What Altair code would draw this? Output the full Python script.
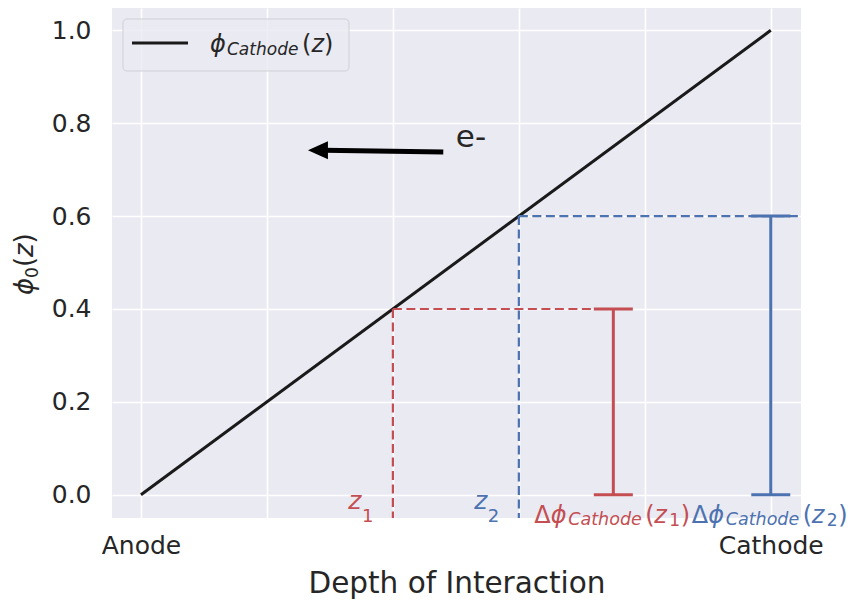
import altair as alt
import pandas as pd

# Weighting potential of the cathode across the detector depth
depth = [0.0, 1.0]
phi_cathode = [0.0, 1.0]

# Two interaction depths, the potential reached there, and where each guide stops
z_depth = [0.4, 0.6]
z_phi = [0.4, 0.6]
z_sub = ["1", "2"]
guide_end = [0.777, 1.10]
bar_x = [0.75, 1.0]
bar_base = [0.0, 0.0]
series_colors = ["#C44E52", "#4C72B0"]
z_label_x = [0.35, 0.55]

# Electron drift arrow and its label
arrow_x = [0.48, 0.29]
arrow_y = [0.738, 0.742]
head_x = [0.281]
head_y = [0.742]
e_x = [0.5]
e_y = [0.748]

grid_ticks = [0.0, 0.2, 0.4, 0.6, 0.8, 1.0]
x_domain = [-0.046, 1.048]
y_domain = [-0.05, 1.048]

INK = "#262626"
FONT = "DejaVu Sans"

xs = alt.Scale(domain=x_domain, nice=False, zero=False)
ys = alt.Scale(domain=y_domain, nice=False, zero=False)

x_axis = alt.Axis(
    values=grid_ticks,
    labelExpr="datum.value == 0 ? 'Anode' : (datum.value == 1 ? 'Cathode' : '')",
    labelOverlap=False,
    labelFlush=False,
    labelPadding=15,
    titleFontSize=29.5,
    titlePadding=11,
)
y_axis = alt.Axis(
    values=grid_ticks,
    format=".1f",
    labelPadding=21,
)
X_TITLE = "Depth of Interaction"


def X(field="x"):
    return alt.X(f"{field}:Q", scale=xs, axis=x_axis, title=X_TITLE)


def Y(field="y"):
    return alt.Y(f"{field}:Q", scale=ys, axis=y_axis, title=None)


layers = []

# main potential line
main_df = pd.DataFrame({"x": depth, "y": phi_cathode})
layers.append(
    alt.Chart(main_df).mark_line(color="#1a1a1a", strokeWidth=3).encode(x=X(), y=Y())
)

pts = pd.DataFrame(
    {
        "z": z_depth,
        "phi": z_phi,
        "end": guide_end,
        "bx": bar_x,
        "base": bar_base,
        "c": series_colors,
        "floor": [y_domain[0]] * len(z_depth),
    }
)

dash = dict(strokeDash=[9, 4.5], strokeWidth=2.2, clip=True)
color_enc = alt.Color("c:N", scale=None)

# dashed guides from each depth up to the line and across to its bar
layers.append(
    alt.Chart(pts).mark_rule(**dash).encode(x=X("z"), y=Y("phi"), y2="floor:Q", color=color_enc)
)
layers.append(
    alt.Chart(pts).mark_rule(**dash).encode(x=X("z"), x2="end:Q", y=Y("phi"), color=color_enc)
)

# delta-phi bars with caps
layers.append(
    alt.Chart(pts).mark_rule(strokeWidth=3).encode(x=X("bx"), y=Y("base"), y2="phi:Q", color=color_enc)
)
caps = pd.DataFrame(
    {
        "bx": bar_x + bar_x,
        "v": bar_base + z_phi,
        "c": series_colors + series_colors,
    }
)
layers.append(
    alt.Chart(caps)
    .mark_tick(orient="horizontal", size=39, thickness=3, opacity=1)
    .encode(x=X("bx"), y=Y("v"), color=color_enc)
)

# electron drift arrow
arrow_df = pd.DataFrame({"x": arrow_x, "y": arrow_y})
layers.append(
    alt.Chart(arrow_df).mark_line(color="black", strokeWidth=5).encode(x=X(), y=Y())
)
head_df = pd.DataFrame({"x": head_x, "y": head_y})
layers.append(
    alt.Chart(head_df)
    .mark_point(shape="M -1 0 L 1 -0.9 L 1 0.9 Z", size=400, filled=True, opacity=1, color="black")
    .encode(x=X(), y=Y())
)
e_df = pd.DataFrame({"x": e_x, "y": e_y, "t": ["e-"]})
layers.append(
    alt.Chart(e_df)
    .mark_text(align="left", baseline="alphabetic", fontSize=31, color=INK)
    .encode(x=X(), y=Y(), text="t:N")
)


def piece(x, y, text, dx, dy, size, color, italic=False, align="left"):
    df = pd.DataFrame({"x": [x], "y": [y], "t": [text]})
    kw = dict(
        align=align,
        baseline="alphabetic",
        dx=dx,
        dy=dy,
        fontSize=size,
        color=color,
    )
    if italic:
        kw["fontStyle"] = "italic"
    return alt.Chart(df).mark_text(**kw).encode(x=X(), y=Y(), text="t:N")


# z_1, z_2 labels next to the dashed verticals
for lx, sub, col in zip(z_label_x, z_sub, series_colors):
    layers.append(piece(lx, 0.0, "z", 0, 14.5, 25, col, italic=True, align="right"))
    layers.append(piece(lx, 0.0, sub, 0.5, 27, 18, col))

# delta-phi_Cathode(z_i) labels under each bar
for bx, sub, col in zip(bar_x, z_sub, series_colors):
    layers.append(piece(bx, 0.0, "Δ", -79, 28.5, 24, col))
    layers.append(piece(bx, 0.0, "ϕ", -62.5, 28.5, 24, col, italic=True))
    layers.append(piece(bx, 0.0, "Cathode", -45, 30.5, 17.5, col, italic=True))
    layers.append(piece(bx, 0.0, "(", 32, 28.5, 24, col))
    layers.append(piece(bx, 0.0, "z", 41, 28.5, 24, col, italic=True))
    layers.append(piece(bx, 0.0, sub, 56, 31, 17, col))
    layers.append(piece(bx, 0.0, ")", 67.5, 28.5, 24, col))


def placed_text(text, px, py, size, italic=False, angle=0, color=INK):
    kw = dict(align="left", baseline="alphabetic", fontSize=size, color=color)
    if italic:
        kw["fontStyle"] = "italic"
    if angle:
        kw["angle"] = angle
    return (
        alt.Chart(pd.DataFrame({"t": [text]}))
        .mark_text(**kw)
        .encode(x=alt.value(px), y=alt.value(py), text="t:N")
    )


# y-axis title phi_0(z), rotated
layers.append(placed_text("ϕ", -79, 287, 26, italic=True, angle=270))
layers.append(placed_text("0", -74, 270, 17, angle=270))
layers.append(placed_text("(", -79, 259, 26, angle=270))
layers.append(placed_text("z", -79, 249, 26, italic=True, angle=270))
layers.append(placed_text(")", -79, 235.5, 26, angle=270))

# legend box
legend_src = pd.DataFrame({"k": [0]})
layers.append(
    alt.Chart(legend_src)
    .mark_rect(fill="#EAEAF2", fillOpacity=0.8, stroke="#cfcfd6", strokeWidth=1, cornerRadius=4)
    .encode(x=alt.value(11), x2=alt.value(237), y=alt.value(11), y2=alt.value(63))
)
layers.append(
    alt.Chart(legend_src)
    .mark_rule(color="#1a1a1a", strokeWidth=3)
    .encode(x=alt.value(20), x2=alt.value(76), y=alt.value(35))
)
layers.append(placed_text("ϕ", 98, 44, 24, italic=True))
layers.append(placed_text("Cathode", 115, 47, 17, italic=True))
layers.append(placed_text("(", 190, 44, 24))
layers.append(placed_text("z", 199.5, 44, 24, italic=True))
layers.append(placed_text(")", 212, 44, 24))

chart = (
    alt.layer(*layers)
    .properties(
        width=689,
        height=510,
        autosize=alt.AutoSizeParams(type="none"),
        padding={"left": 112, "top": 8, "right": 55, "bottom": 82},
        background="white",
    )
    .configure(font=FONT)
    .configure_view(fill="#EAEAF2", strokeWidth=0)
    .configure_axis(
        grid=True,
        gridColor="white",
        gridWidth=1.6,
        domain=False,
        ticks=False,
        tickSize=0,
        labelFont=FONT,
        titleFont=FONT,
        labelFontSize=25,
        labelColor=INK,
        titleColor=INK,
        titleFontWeight="normal",
    )
)

chart.save("out.html", embed_options={"renderer": "svg", "actions": False})
